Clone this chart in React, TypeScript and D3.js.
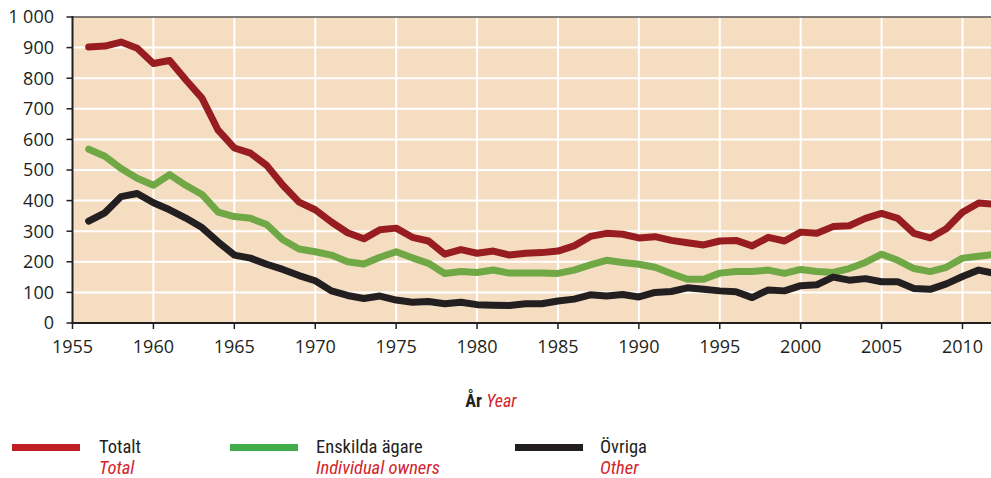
import React from "react";
import * as d3 from "d3";

const years = d3.range(1956, 2013);
const totalt = [902, 905, 918, 898, 848, 858, 795, 735, 630, 572, 555, 515, 450, 395, 370, 330, 295, 275, 305, 310, 280, 268, 225, 240, 228, 235, 222, 228, 230, 235, 252, 283, 293, 290, 278, 282, 270, 262, 255, 268, 270, 252, 280, 268, 297, 293, 315, 318, 342, 358, 342, 293, 278, 308, 362, 392, 388];
const enskilda = [568, 545, 505, 473, 450, 485, 450, 420, 362, 348, 342, 322, 272, 242, 233, 222, 200, 193, 215, 233, 213, 195, 162, 168, 165, 173, 163, 163, 163, 162, 173, 190, 205, 198, 192, 182, 162, 143, 143, 163, 168, 168, 173, 162, 175, 168, 165, 178, 198, 225, 205, 178, 168, 182, 212, 218, 225];
const ovriga = [333, 360, 413, 423, 393, 370, 343, 312, 265, 222, 212, 192, 175, 155, 138, 105, 90, 80, 88, 75, 68, 70, 63, 68, 60, 58, 57, 63, 63, 72, 78, 92, 88, 93, 85, 100, 103, 115, 110, 105, 102, 83, 108, 105, 122, 125, 150, 140, 145, 135, 135, 113, 110, 128, 152, 173, 162];
const xTicks = [1955, 1960, 1965, 1970, 1975, 1980, 1985, 1990, 1995, 2000, 2005, 2010];
const yTicks = [0, 100, 200, 300, 400, 500, 600, 700, 800, 900, 1000];
const yTickLabels = ["0", "100", "200", "300", "400", "500", "600", "700", "800", "900", "1 000"];

const series = [
  { sv: "Totalt", en: "Total", values: totalt, color: "#981d20", legend: "#bf1e24" },
  { sv: "Enskilda ägare", en: "Individual owners", values: enskilda, color: "#70a845", legend: "#40ad4a" },
  { sv: "Övriga", en: "Other", values: ovriga, color: "#231f20", legend: "#231f20" },
];

const W = 991;
const H = 478;
const left = 72.5;
const top = 17;
const bottom = 323;
const right = 991;

export default function App() {
  const x = d3.scaleLinear().domain([1955, 2010]).range([left, 962.5]);
  const y = d3.scaleLinear().domain([0, 1000]).range([bottom, top]);
  const line = d3
    .line<number>()
    .x((_, i) => x(years[i]))
    .y((d) => y(d))
    .curve(d3.curveLinear);
  const tickFont = "'Open Sans', 'Noto Sans', sans-serif";
  const legFont = "'Liberation Sans Narrow', 'Roboto Condensed', 'Roboto', sans-serif";
  const legX = [12, 230, 515];
  const textX = [99, 316, 600];

  return (
    <div style={{ position: "fixed", left: 0, top: 0 }}>
      <svg width={W} height={H} style={{ display: "block", background: "#fff" }}>
        <defs>
          <clipPath id="plotclip">
            <rect x={left} y={top} width={right - left} height={bottom - top} />
          </clipPath>
        </defs>
        <rect x={left} y={top} width={right - left} height={bottom - top} fill="#f5ddc2" />
        {xTicks.filter((t) => t > 1955).map((t) => (
          <line key={"gx" + t} x1={x(t)} x2={x(t)} y1={top} y2={bottom} stroke="#fff" strokeWidth={2} />
        ))}
        {yTicks.filter((t) => t > 0 && t < 1000).map((t) => (
          <line key={"gy" + t} x1={left} x2={right} y1={y(t)} y2={y(t)} stroke="#fff" strokeWidth={2} />
        ))}
        <line x1={left} x2={right} y1={top} y2={top} stroke="#555" strokeWidth={1.5} />
        <g clipPath="url(#plotclip)">
          {series.map((s) => (
            <path
              key={s.sv}
              d={line(s.values) || ""}
              fill="none"
              stroke={s.color}
              strokeWidth={7}
              strokeLinejoin="round"
              strokeLinecap="round"
            />
          ))}
        </g>
        <line x1={left} x2={left} y1={top - 1} y2={bottom + 1} stroke="#231f20" strokeWidth={2} />
        <line x1={left - 1} x2={right} y1={bottom} y2={bottom} stroke="#231f20" strokeWidth={2} />
        {yTicks.map((t, i) => (
          <g key={"yt" + t}>
            <line x1={left - 6} x2={left} y1={y(t)} y2={y(t)} stroke="#231f20" strokeWidth={1.5} />
            <text x={54} y={y(t)} dy="0.36em" textAnchor="end" fontFamily={tickFont} fontSize={18} fill="#231f20">
              {yTickLabels[i]}
            </text>
          </g>
        ))}
        {xTicks.map((t) => (
          <g key={"xt" + t}>
            <line x1={x(t)} x2={x(t)} y1={bottom} y2={bottom + 6} stroke="#231f20" strokeWidth={1.5} />
            <text x={x(t)} y={353} textAnchor="middle" fontFamily={tickFont} fontSize={18} fill="#231f20">
              {t}
            </text>
          </g>
        ))}
        <text x={491} y={407} textAnchor="middle" fontFamily={legFont} fontSize={18}>
          <tspan fontWeight="bold" fill="#231f20">År</tspan>
          <tspan fill="#d3242b" fontStyle="italic"> Year</tspan>
        </text>
        {series.map((s, i) => (
          <g key={"leg" + s.sv}>
            <rect x={legX[i]} y={444} width={68} height={7} fill={s.legend} />
            <text x={textX[i]} y={453} fontFamily={legFont} fontSize={18.5} fill="#231f20">
              {s.sv}
            </text>
            <text x={textX[i]} y={474} fontFamily={legFont} fontSize={18.5} fontStyle="italic" fill="#d3242b">
              {s.en}
            </text>
          </g>
        ))}
      </svg>
    </div>
  );
}
